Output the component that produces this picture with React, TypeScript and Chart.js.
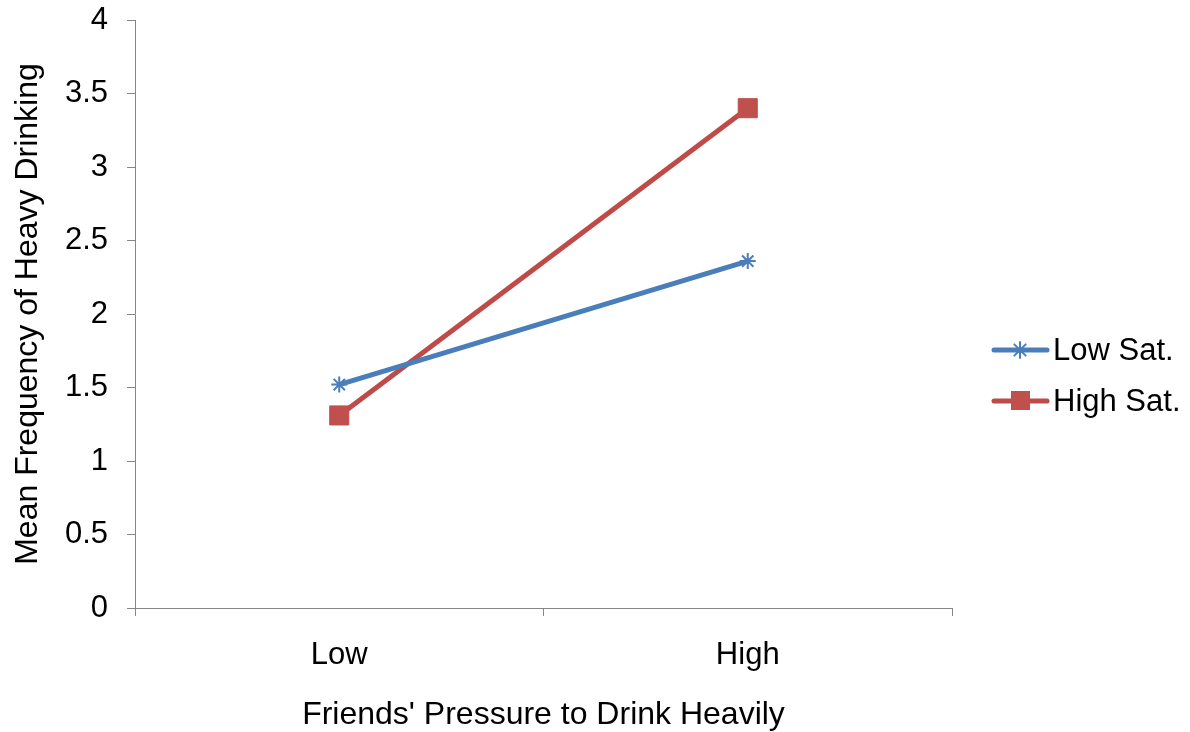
import React, { useEffect, useRef } from 'react';
import { Chart, registerables } from 'chart.js';

Chart.register(...registerables);

const categories = ['Low', 'High'];
const lowSat = [1.52, 2.36];
const highSat = [1.31, 3.4];
const seriesNames = ['Low Sat.', 'High Sat.'];
const yTitle = 'Mean Frequency of Heavy Drinking';
const xTitle = "Friends' Pressure to Drink Heavily";

const FONT = '"Liberation Sans", Arial, sans-serif';
const AXIS = '#868686';
const BLUE = '#4A7EBB';
const RED = '#BE4B48';
const RED_FILL = '#C0504D';

function drawStar(ctx: CanvasRenderingContext2D, x: number, y: number, r: number, color: string) {
  ctx.save();
  ctx.strokeStyle = color;
  ctx.lineWidth = 2;
  ctx.beginPath();
  ctx.moveTo(x, y - r);
  ctx.lineTo(x, y + r);
  ctx.moveTo(x - r, y);
  ctx.lineTo(x + r, y);
  const d = r * Math.SQRT1_2;
  ctx.moveTo(x - d, y - d);
  ctx.lineTo(x + d, y + d);
  ctx.moveTo(x - d, y + d);
  ctx.lineTo(x + d, y - d);
  ctx.stroke();
  ctx.restore();
}

const legendPlugin = {
  id: 'customLegend',
  afterDraw(chart: any) {
    const ctx: CanvasRenderingContext2D = chart.ctx;
    const items = [
      { label: seriesNames[0], color: BLUE, y: 350, marker: 'star' },
      { label: seriesNames[1], color: RED, y: 401, marker: 'rect' },
    ];
    ctx.save();
    items.forEach((it) => {
      ctx.strokeStyle = it.color;
      ctx.lineWidth = 5;
      ctx.lineCap = 'round';
      ctx.beginPath();
      ctx.moveTo(994, it.y);
      ctx.lineTo(1047, it.y);
      ctx.stroke();
      if (it.marker === 'star') {
        drawStar(ctx, 1020, it.y, 8, BLUE);
      } else {
        ctx.fillStyle = RED_FILL;
        ctx.fillRect(1011, it.y - 10, 19, 19);
      }
      ctx.fillStyle = '#000';
      ctx.font = '31px ' + FONT;
      ctx.textAlign = 'left';
      ctx.textBaseline = 'alphabetic';
      ctx.fillText(it.label, 1053, it.y + 10);
    });
    ctx.restore();
  },
};

export default function App() {
  const ref = useRef<HTMLCanvasElement | null>(null);
  useEffect(() => {
    if (!ref.current) return;
    const chart = new Chart(ref.current, {
      type: 'line',
      data: {
        labels: categories,
        datasets: [
          {
            label: seriesNames[0],
            data: lowSat,
            borderColor: BLUE,
            backgroundColor: BLUE,
            borderWidth: 5,
            pointStyle: 'star',
            pointRadius: 8,
            pointBorderWidth: 2,
            pointBorderColor: BLUE,
            pointBackgroundColor: BLUE,
            tension: 0,
          },
          {
            label: seriesNames[1],
            data: highSat,
            borderColor: RED,
            backgroundColor: RED_FILL,
            borderWidth: 5,
            pointStyle: 'rect',
            pointRadius: 13.5,
            pointBorderWidth: 1,
            pointBorderColor: RED_FILL,
            pointBackgroundColor: RED_FILL,
            tension: 0,
          },
        ],
      },
      options: {
        responsive: false,
        animation: false,
        devicePixelRatio: 1,
        layout: { padding: { top: 20, right: 238, left: 0, bottom: 0 } },
        plugins: {
          legend: { display: false },
          tooltip: { enabled: false },
        },
        scales: {
          x: {
            type: 'category',
            offset: true,
            grid: {
              offset: true,
              drawOnChartArea: false,
              drawTicks: true,
              tickLength: 8,
              color: AXIS,
              lineWidth: 1,
            },
            border: { display: true, color: AXIS, width: 1 },
            ticks: {
              color: '#000',
              font: { family: FONT, size: 31 },
              padding: 21,
              maxRotation: 0,
            },
            title: {
              display: true,
              text: xTitle,
              color: '#000',
              font: { family: FONT, size: 32 },
              padding: { top: 0, bottom: -2 },
            },
            afterFit: (scale: any) => {
              scale.height = 124;
              scale.paddingLeft = 0;
              scale.paddingRight = 0;
            },
          },
          y: {
            min: 0,
            max: 4,
            grid: {
              drawOnChartArea: false,
              drawTicks: true,
              tickLength: 8,
              color: AXIS,
              lineWidth: 1,
            },
            border: { display: true, color: AXIS, width: 1 },
            ticks: {
              stepSize: 0.5,
              color: '#000',
              font: { family: FONT, size: 31 },
              padding: 19,
              callback: (v: any) => String(v),
            },
            title: {
              display: true,
              text: yTitle,
              color: '#000',
              font: { family: FONT, size: 32 },
              padding: { top: 9, bottom: 0 },
            },
            afterFit: (scale: any) => {
              scale.width = 135;
              scale.paddingTop = 0;
              scale.paddingBottom = 0;
            },
          },
        },
      },
      plugins: [legendPlugin],
    });
    return () => chart.destroy();
  }, []);
  return (
    <div style={{ position: 'fixed', left: 0, top: 0, width: 1190, height: 732, background: '#fff' }}>
      <canvas ref={ref} width={1190} height={732} style={{ display: 'block' }} />
    </div>
  );
}
